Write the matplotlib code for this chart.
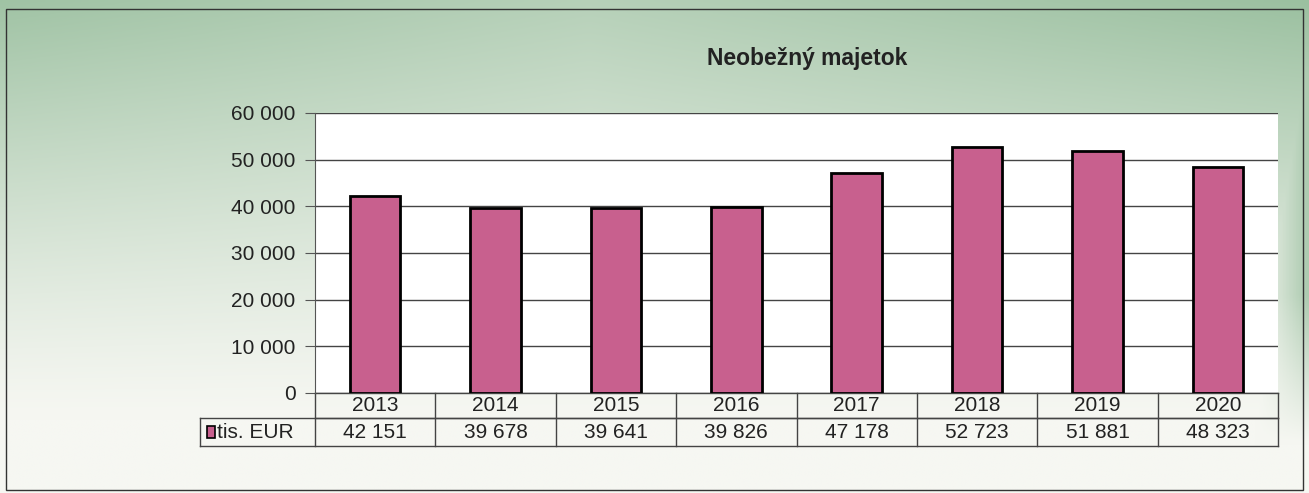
import numpy as np
import matplotlib
matplotlib.use('Agg')
import matplotlib.pyplot as plt
from matplotlib.patches import Rectangle

years = ['2013', '2014', '2015', '2016', '2017', '2018', '2019', '2020']
values = [42151, 39678, 39641, 39826, 47178, 52723, 51881, 48323]
series_name = 'tis. EUR'
title = 'Neobežný majetok'
yticks = [0, 10000, 20000, 30000, 40000, 50000, 60000]

plt.rcParams['font.family'] = ['Liberation Sans', 'DejaVu Sans']

W, H = 1309, 493
fig = plt.figure(figsize=(W / 100, H / 100), dpi=100)

# background gradient (green at top, fading to white at the bottom)
bg = fig.add_axes([0, 0, 1, 1])
yy = np.linspace(0, 1, 200)[:, None]
xx = np.linspace(0, 1, 400)[None, :]
t = np.clip((yy - 0.15) / 0.85, 0, 1) ** 1.2
t = t * (0.7 + 0.3 * np.abs(xx - 0.45) / 0.55)
side = np.clip((xx - 0.96) / 0.04, 0, 1) * np.clip((yy - 0.1) / 0.3, 0, 1)
t = np.maximum(t, side * 0.8)
top = np.array([155, 192, 160]) / 255
white = np.array([246, 247, 242]) / 255
img = white + (top - white) * t[..., None]
bg.imshow(img, extent=[0, 1, 0, 1], aspect='auto', origin='lower')
bg.add_patch(Rectangle((6 / W, 1 - 490 / H), 1297 / W, 481 / H, fill=False,
                       edgecolor='#333333', lw=1))
bg.set_xlim(0, 1)
bg.set_ylim(0, 1)
bg.axis('off')

L, R, T, B = 315, 1278, 113, 393
ax = fig.add_axes([L / W, 1 - B / H, (R - L) / W, (B - T) / H])
x = np.arange(len(years))
ax.bar(x, values, width=0.42, color='#C8608E', edgecolor='black', linewidth=2, zorder=3)
ax.set_xlim(-0.5, len(years) - 0.5)
ax.set_ylim(0, 60000)
ax.set_yticks(yticks)
ax.set_yticklabels([f'{v:,}'.replace(',', ' ') for v in yticks], fontsize=15, color='#222222')
ax.set_xticks([])
ax.yaxis.grid(True, color='#444444', lw=1)
ax.set_axisbelow(True)
for s in ['top', 'right', 'bottom']:
    ax.spines[s].set_visible(False)
ax.spines['left'].set_color('#555555')
ax.tick_params(axis='y', length=7, color='#555555', pad=7)
ax.set_facecolor('white')

# data table below the plot
tr = ax.get_xaxis_transform()
r1 = 25 / (B - T)
r2 = 53 / (B - T)
lc = dict(color='#444444', lw=1, clip_on=False, transform=tr)
ax.plot([-0.5, len(years) - 0.5], [0, 0], **lc)
ax.plot([-0.5, len(years) - 0.5], [-r1, -r1], **lc)
leg_left = -0.5 - (L - 200) / ((R - L) / len(years))
ax.plot([leg_left, len(years) - 0.5], [-r1, -r1], **lc)
ax.plot([leg_left, len(years) - 0.5], [-r2, -r2], **lc)
ax.plot([leg_left, leg_left], [-r1, -r2], **lc)
for i in range(len(years) + 1):
    ax.plot([i - 0.5, i - 0.5], [0, -r2], **lc)
for i, (yr, v) in enumerate(zip(years, values)):
    ax.text(i, -r1 / 2, yr, ha='center', va='center', fontsize=15, color='#222222',
            transform=tr, clip_on=False)
    ax.text(i, -(r1 + r2) / 2, f'{v:,}'.replace(',', ' '), ha='center', va='center',
            fontsize=15, color='#222222', transform=tr, clip_on=False)
ax.add_patch(Rectangle((leg_left + 0.055, -(r1 + r2) / 2 - 0.02), 0.07, 0.04,
                       facecolor='#C8608E', edgecolor='black', lw=1.2,
                       transform=tr, clip_on=False))
ax.text(leg_left + 0.14, -(r1 + r2) / 2, series_name, ha='left', va='center',
        fontsize=15, color='#222222', transform=tr, clip_on=False)

fig.text(807 / W, 1 - 58 / H, title, ha='center', va='center', fontsize=16.5,
         fontweight='bold', color='#222222')

fig.savefig('out.png', dpi=100)
